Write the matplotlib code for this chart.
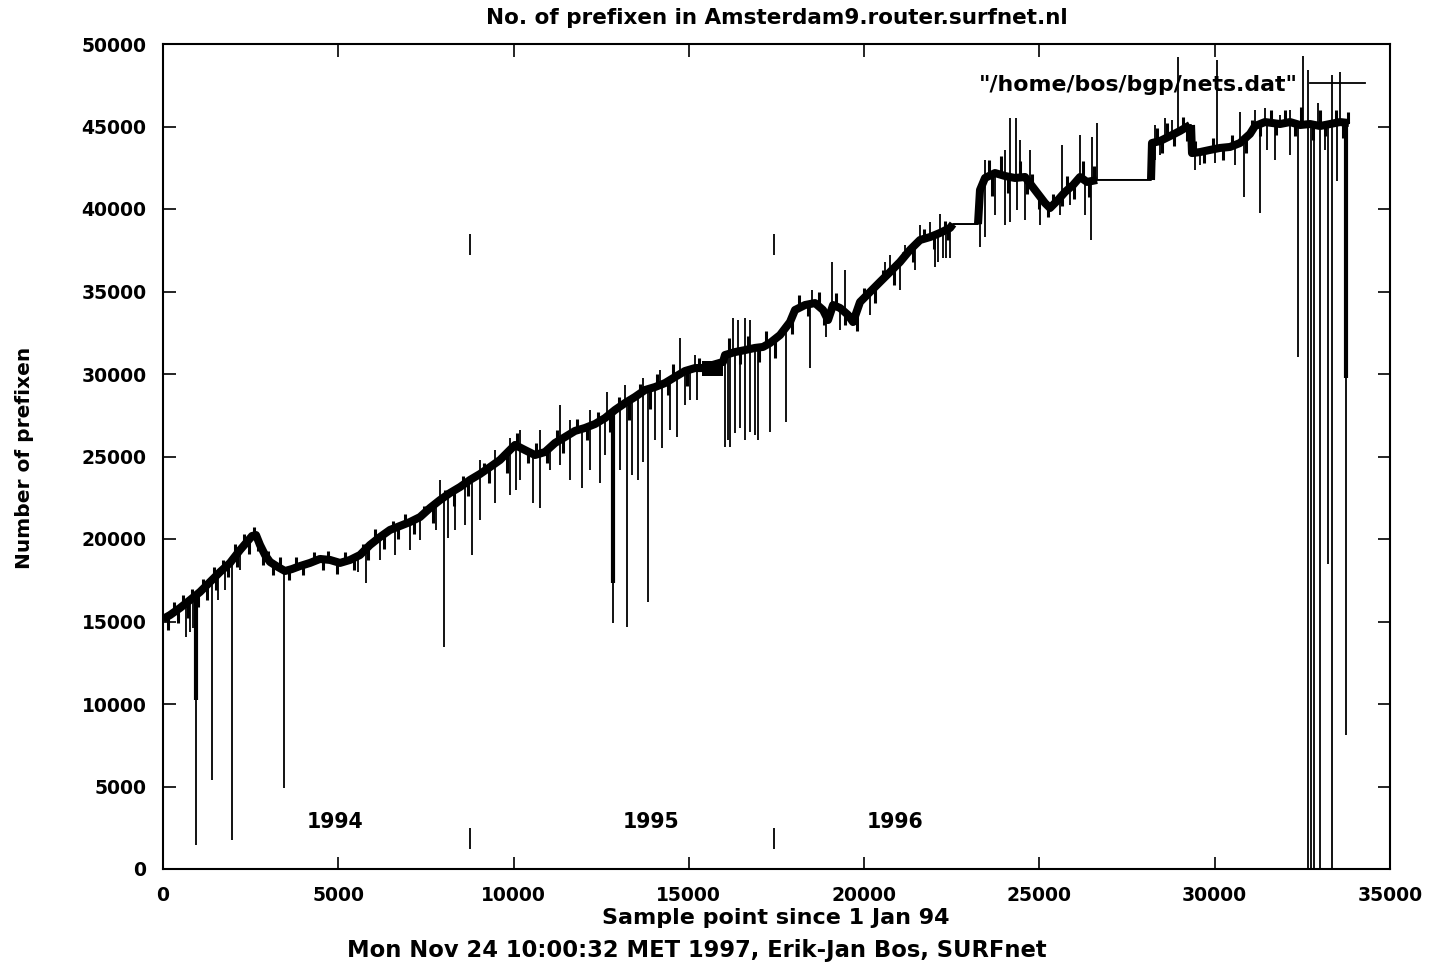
import numpy as np
import matplotlib
matplotlib.use("Agg")
import matplotlib.pyplot as plt

# ---------------- data ----------------
trace_x = [0, 200, 485, 770, 1055, 1340, 1626, 1911, 2196, 2396, 2539, 2653, 2767, 2910,
           3052, 3280, 3480, 3680, 3908, 4193, 4478, 4764, 5049, 5334, 5619, 5905, 6190,
           6475, 6760, 7046, 7331, 7616, 7901, 8187, 8472, 8757, 9042, 9328, 9613, 9898,
           10041, 10326, 10611, 10896, 11182, 11467, 11752, 12038, 12323, 12608, 12893,
           13179, 13464, 13749, 14034, 14320, 14605, 14890, 15175, 15375, 15974, 16031,
           16317, 16602, 16887, 17115, 17315, 17600, 17885, 18028, 18313, 18598, 18827,
           18970, 19113, 19312, 19540, 19683, 19882, 20167, 20453, 20738, 21023, 21308,
           21593, 21879, 22164, 22449, 22535, 23248, 23305, 23448, 23733, 24018, 24303,
           24589, 24874, 25159, 25302, 25530, 25730, 25958, 26158, 26357, 26643, 28183,
           28211, 28440, 28725, 29010, 29295, 29324, 29352, 29580, 29865, 30150, 30436,
           30721, 31006, 31149, 31434, 31863, 32148, 32433, 32718, 33003, 33288, 33574,
           33831]
trace_y = [15150, 15390, 15820, 16300, 16790, 17390, 18000, 18550, 19330, 19820, 20180,
           20240, 19640, 19030, 18610, 18300, 18060, 18180, 18360, 18550, 18790, 18730,
           18550, 18730, 19030, 19640, 20120, 20550, 20790, 21030, 21330, 21880, 22360,
           22790, 23150, 23580, 23940, 24360, 24790, 25390, 25700, 25390, 25090, 25270,
           25820, 26180, 26550, 26730, 26970, 27330, 27820, 28240, 28610, 29030, 29210,
           29450, 29820, 30180, 30360, 30360, 30730, 31150, 31330, 31450, 31580, 31640,
           31880, 32360, 33150, 33880, 34180, 34300, 33880, 33270, 34180, 34000, 33580,
           33150, 34360, 34970, 35580, 36180, 36790, 37520, 38120, 38300, 38550, 38850,
           39090, 39090, 41150, 41880, 42180, 42000, 41880, 41940, 41150, 40360, 40060,
           40550, 41030, 41450, 41940, 41640, 41760, 41760, 44000, 44120, 44420, 44730,
           45090, 45090, 43390, 43450, 43580, 43700, 43760, 44000, 44550, 45030, 45270,
           45150, 45270, 45090, 45150, 45030, 45150, 45270, 45210]

# gaps in the data: plain connecting segments (no noise band)
gap_starts = [22535, 26643, 29295]
gap_ends = [23248, 28183, 29324]

# oscillating block (around 15400-16000)
block_x = [15375, 15974]
block_lo = [29880, 29880]
block_hi = [30780, 30780]

# downward spikes: x, lowest value
down_x = [656, 770, 856, 941, 1398, 1569, 1769, 1968, 2196, 3452, 5562, 5791, 6190, 6618,
          7046, 7331, 7787, 8016, 8130, 8329, 8615, 8814, 9042, 9470, 9898, 10070, 10184,
          10554, 10754, 11039, 11324, 11610, 11952, 12180, 12465, 12608, 12836, 13036,
          13236, 13378, 13549, 13692, 13835, 14034, 14234, 14462, 14662, 14890, 15033,
          15232, 16031, 16117, 16174, 16317, 16460, 16602, 16744, 16887, 16972, 17315,
          17771, 18456, 18912, 19312, 19597, 19740, 20167, 21023, 21451, 22021, 22107,
          22250, 22335, 22449, 23305, 23448, 23733, 24018, 24161, 24360, 24589, 25016,
          25587, 25872, 26300, 26471, 28297, 28440, 28868, 29438, 29580, 30008, 30579,
          30835, 31291, 31491, 31720, 32148, 32376, 32661, 32747, 32833, 33003, 33146,
          33231, 33345, 33488, 33745]
down_y = [14060, 14360, 14610, 1450, 5390, 16300, 16910, 1760, 18120, 4910, 18000, 17330,
          18730, 19030, 19330, 19940, 20550, 13450, 20060, 20550, 20850, 19030, 21150,
          22180, 22670, 22970, 23580, 22180, 21880, 24180, 24480, 23580, 23090, 24180,
          23390, 25090, 14910, 24180, 14670, 23880, 23580, 24670, 16180, 26000, 25520,
          26610, 26180, 28120, 28420, 28420, 25580, 26000, 25580, 26420, 26730, 26000,
          26480, 26300, 26000, 26480, 27090, 30360, 32240, 32670, 33270, 32970, 33580,
          35090, 36300, 36480, 36790, 37030, 37030, 37030, 37700, 38300, 39640, 39030,
          39210, 39940, 39330, 39030, 39640, 40240, 39640, 38120, 42970, 43270, 43880,
          42360, 42670, 42790, 42670, 40730, 39760, 43580, 42970, 43270, 31030, 0, 0, 0,
          0, 43580, 18480, 0, 41700, 8120]

# thick parts of some downward spikes
thick_x = [941, 12836, 33745]
thick_y = [10240, 17330, 29760]

# upward spikes: x, highest value
up_x = [7901, 9042, 9470, 9898, 10184, 10754, 11324, 11610, 12180, 12665, 13179, 13692,
        14177, 14747, 15175, 16260, 16402, 16602, 16744, 18513, 19083, 19454, 20595,
        20738, 21166, 21593, 21879, 22164, 23448, 24018, 24161, 24332, 24446, 24731,
        25644, 26158, 26500, 26643, 28297, 28582, 28782, 28953, 30065, 30721, 31149,
        31434, 31863, 32148, 32518, 32661, 32947, 33345, 33574]
up_y = [23580, 24790, 25390, 26120, 26610, 26610, 28120, 27210, 27820, 28910, 29330, 29760,
        30240, 32180, 31150, 33390, 33270, 33390, 33270, 35090, 36790, 36300, 36790, 37210,
        37820, 39030, 39210, 39700, 42970, 43580, 45520, 45520, 44180, 43580, 43880, 44480,
        44360, 45210, 45090, 45520, 45390, 49210, 49030, 45880, 46000, 46120, 45700, 46000,
        49270, 48420, 46420, 48120, 48300]

# short jitter around the trace: x, end value
jit_x = [150, 300, 420, 560, 700, 820, 1000, 1150, 1250, 1450, 1520, 1700, 1850, 2050,
         2120, 2300, 2450, 2600, 2720, 2850, 3000, 3150, 3350, 3600, 3800, 4000, 4300,
         4550, 4700, 4950, 5200, 5450, 5700, 5850, 6050, 6300, 6550, 6700, 6900, 7150,
         7450, 7700, 8050, 8300, 8550, 8700, 9150, 9300, 9700, 9800, 10100, 10400, 10650,
         10950, 11250, 11400, 11800, 12100, 12400, 12750, 13000, 13300, 13600, 13900,
         14100, 14400, 14550, 14950, 15300, 16150, 16450, 16700, 17000, 17200, 17450,
         17700, 17950, 18150, 18400, 18700, 18850, 19200, 19450, 19800, 20000, 20300,
         20550, 20850, 21100, 21400, 21700, 22000, 22300, 22400, 23550, 23650, 23900,
         24100, 24450, 24650, 24800, 25000, 25250, 25400, 25650, 25800, 26000, 26250,
         26400, 26550, 28350, 28500, 28650, 28850, 29100, 29200, 29450, 29700, 29950,
         30250, 30500, 30900, 31050, 31300, 31600, 31750, 32000, 32300, 32450, 32800,
         33000, 33150, 33450, 33650, 33800]
jit_y = [14500, 16200, 14900, 16600, 15200, 17000, 15900, 17600, 16300, 18300, 16900,
         18700, 17700, 19700, 18300, 20300, 19100, 20700, 19300, 18400, 19300, 17800,
         18900, 17500, 18900, 17800, 19200, 18100, 19300, 17900, 19200, 18100, 19700,
         18700, 20600, 19400, 21100, 20000, 21500, 20300, 22000, 21000, 23000, 22000,
         23800, 22600, 24600, 23400, 25300, 24000, 26400, 24600, 25800, 24600, 26600,
         25200, 27300, 26000, 27700, 26500, 28600, 27200, 29400, 27900, 30000, 28700,
         30600, 29300, 31000, 32200, 30600, 32300, 30700, 32600, 31000, 33000, 32400,
         34800, 33500, 35000, 33000, 34900, 33000, 32600, 35200, 34300, 36300, 35400,
         37400, 36800, 38800, 37600, 39300, 38100, 43000, 40800, 43200, 41000, 42900,
         40900, 42100, 40000, 39500, 40900, 40200, 42000, 40600, 42900, 40700, 42600,
         44900, 43400, 45200, 43800, 45600, 44100, 44100, 42800, 44300, 43000, 44500,
         43400, 45400, 44400, 46000, 44500, 46000, 44400, 46200, 44200, 46000, 44400,
         46000, 44300, 45900]

year_sep_x = [8760, 17430]
year_labels = ["1994", "1995", "1996"]
year_label_x = [4906, 13920, 20880]

x_ticks = [0, 5000, 10000, 15000, 20000, 25000, 30000, 35000]
y_ticks = [0, 5000, 10000, 15000, 20000, 25000, 30000, 35000, 40000, 45000, 50000]

# ---------------- drawing ----------------
plt.rcParams['font.family'] = ['DejaVu Sans']
FS = 13.5

fig = plt.figure(figsize=(14.36, 9.65), dpi=100)
ax = fig.add_axes([163 / 1436, 1 - 869 / 965, (1390 - 163) / 1436, (869 - 44) / 965])

tx = np.array(trace_x, dtype=float)
ty = np.array(trace_y, dtype=float)

# thin full trace
ax.plot(tx, ty, color="black", lw=1.4, zorder=3)

# noisy band: break the thick line at the gaps
bx, by = [tx[0]], [ty[0]]
for i in range(1, len(tx)):
    is_gap = any(abs(tx[i - 1] - s) < 1 and abs(tx[i] - e) < 1 for s, e in zip(gap_starts, gap_ends))
    if is_gap:
        bx.append(np.nan)
        by.append(np.nan)
    bx.append(tx[i])
    by.append(ty[i])
ax.plot(bx, by, color="black", lw=5.8, solid_capstyle="butt", zorder=3)

# block
ax.fill_between(block_x, block_lo, block_hi, color="black", lw=0, zorder=3)

# spikes
dx = np.array(down_x, dtype=float)
ax.vlines(dx, down_y, np.interp(dx, tx, ty), color="black", lw=1.3, zorder=3)
thx = np.array(thick_x, dtype=float)
ax.vlines(thx, thick_y, np.interp(thx, tx, ty), color="black", lw=3.0, zorder=3)
ux = np.array(up_x, dtype=float)
ax.vlines(ux, np.interp(ux, tx, ty), up_y, color="black", lw=1.3, zorder=3)
jx = np.array(jit_x, dtype=float)
ax.vlines(jx, np.interp(jx, tx, ty), jit_y, color="black", lw=2.2, zorder=3)

# year separators
ax.vlines(year_sep_x, 37200, 38500, color="black", lw=1.3)
ax.vlines(year_sep_x, 1200, 2500, color="black", lw=1.3)
for lab, xx in zip(year_labels, year_label_x):
    ax.text(xx, 2850, lab, ha="center", va="center", fontsize=14.8, fontweight="bold")

ax.set_xlim(0, 35000)
ax.set_ylim(0, 50000)
ax.set_xticks(x_ticks)
ax.set_yticks(y_ticks)
ax.tick_params(direction="in", length=9, width=1.2, top=True, right=True,
               labelsize=FS, pad=12)
for lab in ax.get_xticklabels() + ax.get_yticklabels():
    lab.set_fontweight("bold")
for sp in ax.spines.values():
    sp.set_linewidth(1.5)

# legend entry
ax.text(0.925, 0.9497, '"/home/bos/bgp/nets.dat"', transform=ax.transAxes,
        ha="right", va="center", fontsize=15.8, fontweight="bold")
ax.plot([0.9345, 0.980], [0.9525, 0.9525], transform=ax.transAxes, color="black", lw=1.3)

fig.text(777 / 1436, 1 - 18 / 965, "No. of prefixen in Amsterdam9.router.surfnet.nl",
         ha="center", va="center", fontsize=15.5, fontweight="bold")
fig.text(776 / 1436, 1 - 918 / 965, "Sample point since 1 Jan 94",
         ha="center", va="center", fontsize=16, fontweight="bold")
fig.text(697 / 1436, 1 - 950 / 965, "Mon Nov 24 10:00:32 MET 1997, Erik-Jan Bos, SURFnet",
         ha="center", va="center", fontsize=16.3, fontweight="bold")
fig.text(25 / 1436, 1 - 458 / 965, "Number of prefixen", rotation=90,
         ha="center", va="center", fontsize=14.5, fontweight="bold")

fig.savefig("out.png", dpi=100)
